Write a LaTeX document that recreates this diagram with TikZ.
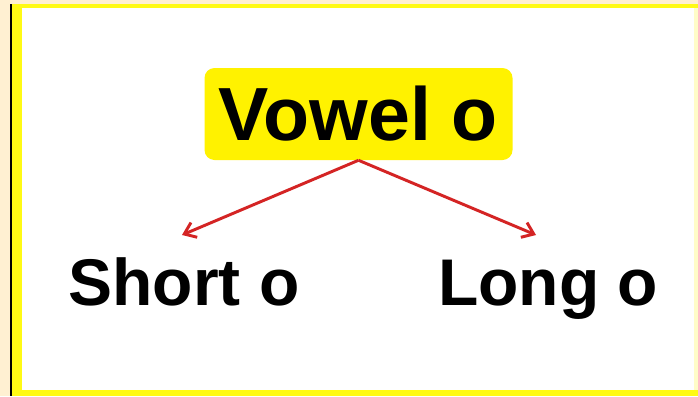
\documentclass[tikz,border=0pt]{standalone}
\usepackage{fontspec}
\setmainfont{Liberation Sans}
\usetikzlibrary{arrows.meta}
\definecolor{framebeige}{RGB}{255,240,210}
\definecolor{frameyellow}{RGB}{255,250,20}
\definecolor{edgeyellow}{RGB}{255,252,200}
\definecolor{arrowred}{RGB}{212,36,36}
\begin{document}
\begin{tikzpicture}[x=0.75pt,y=-0.75pt,
  titlebox/.style={fill=yellow,rounded corners=7.5pt,minimum width=231pt,minimum height=69pt,inner sep=0pt,font=\fontsize{56.5}{60}\selectfont\bfseries},
  branch/.style={anchor=base,inner sep=0pt,font=\fontsize{49.5}{52}\selectfont\bfseries},
  link/.style={draw=arrowred,line width=2.2pt,-{Straight Barb[length=8pt,width=12pt]}}]
\useasboundingbox (0,0) rectangle (698,396);
\fill[framebeige] (0,0) rectangle (698,396);
\fill[frameyellow] (12,4) rectangle (698,396);
\fill[edgeyellow] (690,8) rectangle (698,390);
\fill[white] (22,8) rectangle (694,390);
\draw[line width=1.6pt] (11,4)--(11,396);
\node[titlebox] (vowel) at (358.5,114) {Vowel o};
\node[branch] (short) at (184,305) {Short o};
\node[branch] (long) at (548,305) {Long o};
\coordinate (shortend) at (182,235);
\coordinate (longend) at (536,235);
\draw[link] (vowel.south)--(shortend);
\draw[link] (vowel.south)--(longend);
\end{tikzpicture}
\end{document}
